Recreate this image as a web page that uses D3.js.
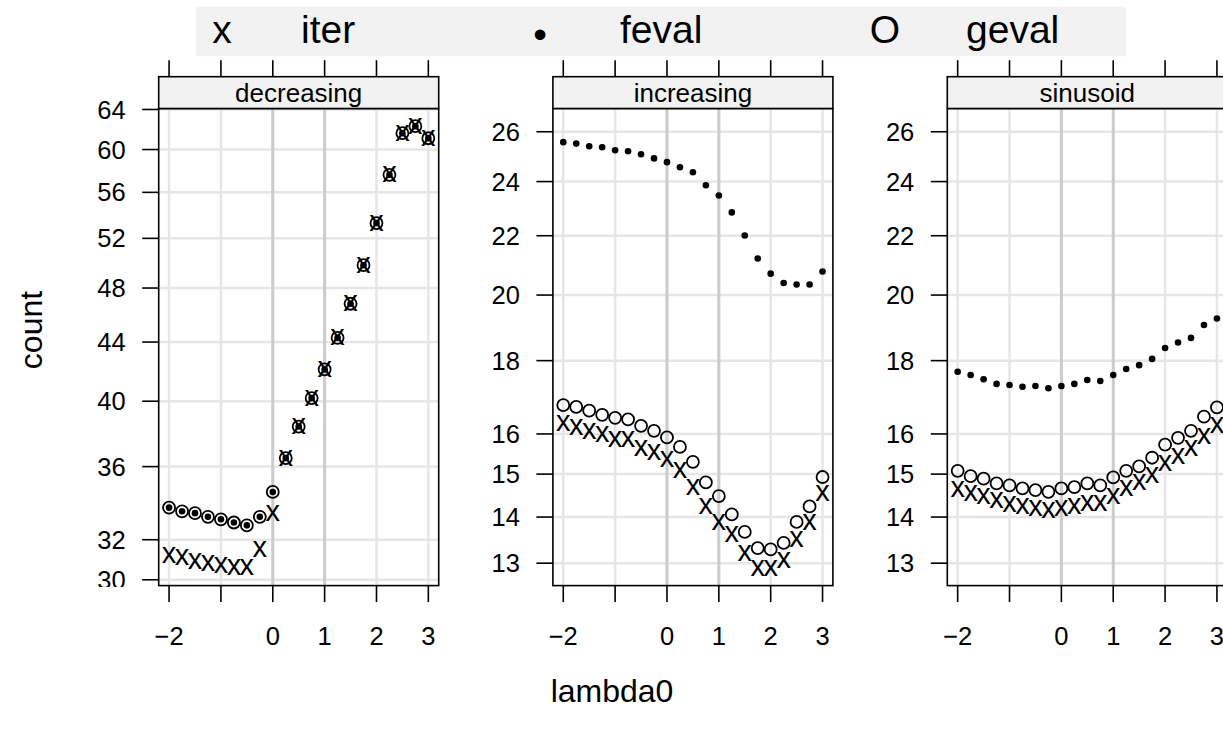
<!DOCTYPE html>
<html>
<head>
<meta charset="utf-8">
<script src="https://cdn.jsdelivr.net/npm/d3@7"></script>
<style>
  html, body { margin: 0; padding: 0; background: #ffffff; }
  svg { display: block; }
  text { font-family: "Liberation Sans", Arial, Helvetica, sans-serif; fill: #000; }
</style>
</head>
<body>
<svg id="chart" width="1223" height="733"></svg>
<script>
// Starting value of lambda for each run
const lambda0 = [-2, -1.75, -1.5, -1.25, -1, -0.75, -0.5, -0.25, 0, 0.25, 0.5,
                 0.75, 1, 1.25, 1.5, 1.75, 2, 2.25, 2.5, 2.75, 3];

// Panel names (one per test function)
const panelNames = ["decreasing", "increasing", "sinusoid"];

// decreasing
const decIter  = [31.2, 31.1, 30.9, 30.8, 30.7, 30.6, 30.6, 31.5, 33.4, 36.5, 38.4,
                  40.2, 42.1, 44.3, 46.8, 49.8, 53.3, 57.6, 61.6, 62.3, 61.1];
const decFeval = [33.7, 33.5, 33.4, 33.2, 33.07, 32.9, 32.75, 33.2, 34.56, 36.5, 38.4,
                  40.2, 42.1, 44.3, 46.8, 49.8, 53.3, 57.6, 61.6, 62.3, 61.1];
const decGeval = [33.7, 33.5, 33.4, 33.2, 33.07, 32.9, 32.75, 33.2, 34.56, 36.5, 38.4,
                  40.2, 42.1, 44.3, 46.8, 49.8, 53.3, 57.6, 61.6, 62.3, 61.1];

// increasing
const incIter  = [16.27, 16.17, 16.06, 15.99, 15.86, 15.86, 15.63, 15.52, 15.36, 15.09, 14.69,
                  14.23, 13.89, 13.62, 13.21, 12.88, 12.88, 13.06, 13.50, 13.89, 14.54];
const incFeval = [25.57, 25.51, 25.40, 25.36, 25.24, 25.20, 25.08, 24.91, 24.76, 24.56, 24.36,
                  23.86, 23.47, 22.84, 22.01, 21.21, 20.70, 20.39, 20.34, 20.34, 20.77];
const incGeval = [16.76, 16.71, 16.61, 16.50, 16.42, 16.38, 16.21, 16.08, 15.91, 15.67, 15.30,
                  14.80, 14.48, 14.06, 13.67, 13.32, 13.29, 13.43, 13.89, 14.24, 14.93];

// sinusoid
const sinIter  = [14.63, 14.55, 14.46, 14.38, 14.29, 14.24, 14.19, 14.15, 14.19, 14.24, 14.31,
                  14.32, 14.46, 14.66, 14.81, 14.97, 15.26, 15.42, 15.63, 15.93, 16.23];
const sinFeval = [17.68, 17.59, 17.47, 17.34, 17.31, 17.26, 17.28, 17.22, 17.28, 17.34, 17.45,
                  17.42, 17.59, 17.76, 17.87, 18.05, 18.37, 18.53, 18.67, 19.06, 19.26];
const sinGeval = [15.08, 14.95, 14.89, 14.78, 14.73, 14.66, 14.62, 14.58, 14.66, 14.69, 14.78,
                  14.73, 14.92, 15.08, 15.19, 15.40, 15.73, 15.90, 16.08, 16.45, 16.70];

// Axis ticks and labels
const xTicks = [-2, -1, 0, 1, 2, 3];
const xTickLabels = ["\u22122", "", "0", "1", "2", "3"];
const xRefLines = [0, 1];
const xLimits = [-2.2, 3.2];
const decYTicks = [30, 32, 36, 40, 44, 48, 52, 56, 60, 64];
const otherYTicks = [13, 14, 15, 16, 18, 20, 22, 24, 26];
const decYLimits = [29.72, 64.1];
const otherYLimits = [12.54, 26.99];

// Legend entries
const legendSymbols = ["x", "\u2022", "O"];
const legendLabels = ["iter", "feval", "geval"];

const panels = [
  { name: panelNames[0], iter: decIter, feval: decFeval, geval: decGeval, yTicks: decYTicks, yLim: decYLimits },
  { name: panelNames[1], iter: incIter, feval: incFeval, geval: incGeval, yTicks: otherYTicks, yLim: otherYLimits },
  { name: panelNames[2], iter: sinIter, feval: sinFeval, geval: sinGeval, yTicks: otherYTicks, yLim: otherYLimits }
];

// Layout
const panelLeft = [158.7, 552.9, 947.3];
const panelW = 280;
const stripTop = 76.7, panelTop = 108.5, panelBottom = 585.6;
const tickLen = 16.5;
const tickFont = 25.5;

const svg = d3.select("#chart");

// Legend band
const legend = svg.append("g");
legend.append("rect")
  .attr("x", 196).attr("y", 6.7).attr("width", 930).attr("height", 49.5)
  .attr("fill", "#f2f2f2");
const legSymX = [222, 540, 885];
const legSymY = [43, 48, 43];
const legLabX = [301, 620, 966];
legendSymbols.forEach((s, i) => {
  legend.append("text").attr("x", legSymX[i]).attr("y", legSymY[i])
    .attr("text-anchor", "middle").attr("font-size", 39).text(s);
  legend.append("text").attr("x", legLabX[i]).attr("y", 43)
    .attr("font-size", 39).text(legendLabels[i]);
});

const defs = svg.append("defs");

panels.forEach((p, pi) => {
  const left = panelLeft[pi];
  const x = d3.scaleLinear().domain(xLimits).range([left, left + panelW]);
  const y = d3.scaleLog().domain(p.yLim).range([panelBottom, panelTop]);
  const g = svg.append("g");

  // grid
  g.selectAll(".hg").data(p.yTicks).join("line")
    .attr("x1", left).attr("x2", left + panelW)
    .attr("y1", d => y(d)).attr("y2", d => y(d))
    .attr("stroke", "#e6e6e6").attr("stroke-width", 2.5);
  g.selectAll(".vg").data(xTicks).join("line")
    .attr("x1", d => x(d)).attr("x2", d => x(d))
    .attr("y1", panelTop).attr("y2", panelBottom)
    .attr("stroke", "#e6e6e6").attr("stroke-width", 2.5);
  g.selectAll(".vr").data(xRefLines).join("line")
    .attr("x1", d => x(d)).attr("x2", d => x(d))
    .attr("y1", panelTop).attr("y2", panelBottom)
    .attr("stroke", "#cccccc").attr("stroke-width", 3);

  // points: geval (open circles), feval (dots), iter (x)
  const idx = d3.range(lambda0.length);
  g.selectAll(".ge").data(idx).join("circle")
    .attr("cx", i => x(lambda0[i])).attr("cy", i => y(p.geval[i]))
    .attr("r", 6).attr("fill", "none").attr("stroke", "#000").attr("stroke-width", 1.8);
  g.selectAll(".fe").data(idx).join("circle")
    .attr("cx", i => x(lambda0[i])).attr("cy", i => y(p.feval[i]))
    .attr("r", 3.3).attr("fill", "#000");
  const xs = 29;
  g.selectAll(".it").data(idx).join("text")
    .attr("x", i => x(lambda0[i])).attr("y", i => y(p.iter[i]) + 0.26 * xs)
    .attr("text-anchor", "middle").attr("font-size", xs).text("x");

  // panel border
  g.append("rect").attr("x", left).attr("y", panelTop)
    .attr("width", panelW).attr("height", panelBottom - panelTop)
    .attr("fill", "none").attr("stroke", "#000").attr("stroke-width", 1.6);

  // strip
  g.append("rect").attr("x", left).attr("y", stripTop)
    .attr("width", panelW).attr("height", panelTop - stripTop)
    .attr("fill", "#f2f2f2").attr("stroke", "#000").attr("stroke-width", 1.6);
  g.append("text").attr("x", left + panelW / 2).attr("y", 101.5)
    .attr("text-anchor", "middle").attr("font-size", 26).text(p.name);

  // top ticks
  g.selectAll(".tt").data(xTicks).join("line")
    .attr("x1", d => x(d)).attr("x2", d => x(d))
    .attr("y1", stripTop - tickLen).attr("y2", stripTop)
    .attr("stroke", "#000").attr("stroke-width", 1.6);

  // bottom axis
  g.selectAll(".bt").data(xTicks).join("line")
    .attr("x1", d => x(d)).attr("x2", d => x(d))
    .attr("y1", panelBottom).attr("y2", panelBottom + tickLen)
    .attr("stroke", "#000").attr("stroke-width", 1.6);
  g.selectAll(".bl").data(xTicks).join("text")
    .attr("x", d => x(d)).attr("y", 645)
    .attr("text-anchor", "middle").attr("font-size", tickFont)
    .text((d, i) => xTickLabels[i]);

  // left axis
  g.selectAll(".lt").data(p.yTicks).join("line")
    .attr("x1", left - tickLen).attr("x2", left)
    .attr("y1", d => y(d)).attr("y2", d => y(d))
    .attr("stroke", "#000").attr("stroke-width", 1.6);
  const clipId = "yclip" + pi;
  defs.append("clipPath").attr("id", clipId).append("rect")
    .attr("x", left - 120).attr("y", 0).attr("width", 120).attr("height", panelBottom + 1.5);
  g.append("g").attr("clip-path", `url(#${clipId})`)
    .selectAll("text").data(p.yTicks).join("text")
    .attr("x", left - tickLen - 16.5).attr("y", d => y(d) + 0.358 * tickFont)
    .attr("text-anchor", "end").attr("font-size", tickFont).text(d => d);
});

// axis titles
svg.append("text").attr("transform", "translate(42,330) rotate(-90)")
  .attr("text-anchor", "middle").attr("font-size", 32).text("count");
svg.append("text").attr("x", 612).attr("y", 702)
  .attr("text-anchor", "middle").attr("font-size", 32).text("lambda0");
</script>
</body>
</html>
